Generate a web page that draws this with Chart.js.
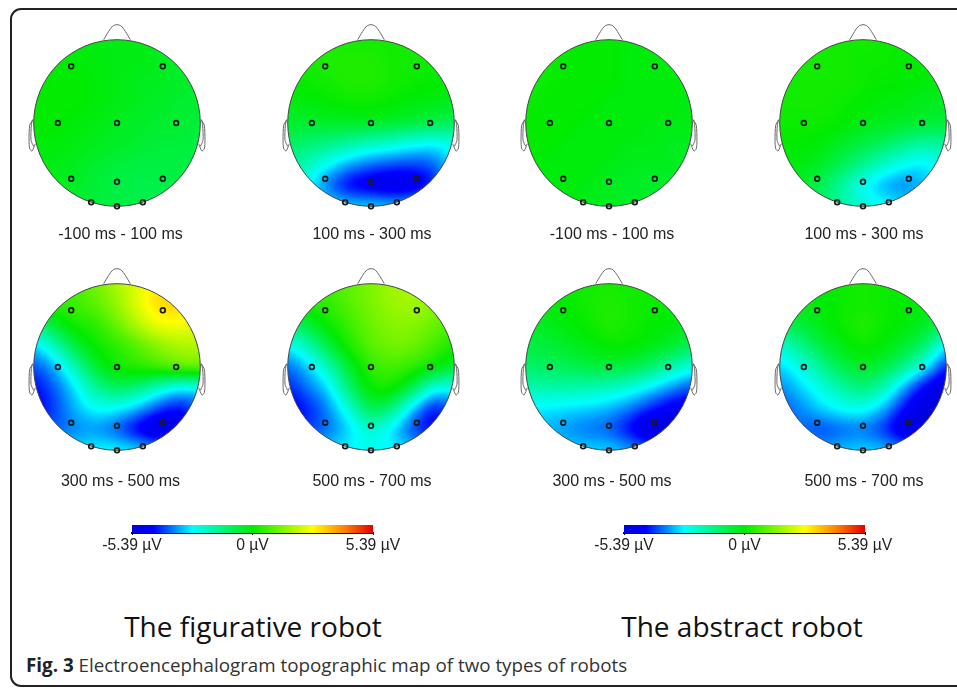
<!DOCTYPE html>
<html>
<head>
<meta charset="utf-8">
<title>Fig. 3</title>
<script src="https://cdn.jsdelivr.net/npm/chart.js@4"></script>
<style>
    html, body { margin: 0; padding: 0; background: #fff; overflow: hidden; }
    body { position: relative; width: 957px; height: 689px; }
    canvas { position: absolute; }
    .frame { position: absolute; left: 10px; top: 8px; width: 1000px; height: 679px; border: 2px solid #222; border-radius: 11px; box-sizing: border-box; }
    .label { position: absolute; width: 200px; text-align: center; font: 16px "Liberation Sans", Arial, sans-serif; color: #222; white-space: nowrap; }
    .group { position: absolute; width: 320px; text-align: center; font: 28px "Open Sans", sans-serif; color: #111; white-space: nowrap; }
    .caption { position: absolute; left: 26px; top: 652px; font: 18.8px "Open Sans", sans-serif; color: #333; white-space: nowrap; }
    .caption b { color: #222; }
</style>
</head>
<body>
<div class="frame"></div>
<script>
// Time windows under each map
const TIME_LABELS = ['-100 ms - 100 ms', '100 ms - 300 ms', '-100 ms - 100 ms', '100 ms - 300 ms',
                     '300 ms - 500 ms', '500 ms - 700 ms', '300 ms - 500 ms', '500 ms - 700 ms'];
const GROUP_LABELS = ['The figurative robot', 'The abstract robot'];
const SCALE_TICKS = [-5.39, 0, 5.39];

// Electrodes, in head units (radius = 1, y pointing down)
const ELECTRODES = [
    {x: -0.55, y: -0.68}, {x: 0.55, y: -0.68},
    {x: -0.71, y: 0}, {x: 0, y: 0}, {x: 0.71, y: 0},
    {x: -0.55, y: 0.67}, {x: 0, y: 0.705}, {x: 0.55, y: 0.67},
    {x: -0.31, y: 0.95}, {x: 0, y: 1}, {x: 0.31, y: 0.95}
];
const NOSE = [{x: -0.16, y: -1}, {x: -0.1, y: -1.1}, {x: -0.05, y: -1.165}, {x: 0, y: -1.18},
              {x: 0.05, y: -1.165}, {x: 0.1, y: -1.1}, {x: 0.16, y: -1}];
const EAR_OUTER = [{x: 1.012, y: -0.04}, {x: 1.048, y: 0.028}, {x: 1.056, y: 0.208},
                   {x: 1.048, y: 0.308}, {x: 1.02, y: 0.336}, {x: 0.98, y: 0.248}];
const EAR_INNER = [{x: 1.012, y: -0.04}, {x: 1.028, y: 0.02}, {x: 1.032, y: 0.208}, {x: 1, y: 0.28}];

// Voltage (µV), rows top to bottom, columns left to right, every 0.25 head units
const FIG_M100 = [
    [-0.1, -0.1, -0.1, -0.2, -0.2, -0.2, -0.3, -0.4, -0.4],
    [-0.1, 0, -0.1, -0.1, -0.2, -0.2, -0.3, -0.4, -0.4],
    [-0.1, 0, 0, -0.1, -0.2, -0.3, -0.3, -0.4, -0.5],
    [0, 0, 0, -0.1, -0.2, -0.3, -0.4, -0.5, -0.5],
    [0, 0, -0.1, -0.2, -0.3, -0.4, -0.5, -0.5, -0.6],
    [-0.1, -0.1, -0.2, -0.3, -0.4, -0.5, -0.6, -0.6, -0.7],
    [-0.2, -0.2, -0.3, -0.5, -0.6, -0.7, -0.7, -0.7, -0.7],
    [-0.2, -0.3, -0.4, -0.6, -0.7, -0.8, -0.8, -0.7, -0.7],
    [-0.3, -0.3, -0.5, -0.6, -0.7, -0.8, -0.8, -0.7, -0.7]
];
const FIG_100 = [
    [0.2, 0.2, 0.2, 0.2, 0.2, 0.2, 0.2, 0.2, 0.2],
    [0.1, 0.2, 0.3, 0.3, 0.3, 0.2, 0.2, 0.1, 0.1],
    [0, 0.1, 0.2, 0.3, 0.3, 0.2, 0.1, 0, 0],
    [-0.2, -0.1, 0, 0.1, 0.1, 0, -0.1, -0.2, -0.3],
    [-0.5, -0.5, -0.4, -0.4, -0.4, -0.5, -0.6, -0.8, -0.9],
    [-1, -1.2, -1.4, -1.7, -2, -2.2, -2.5, -2.7, -2.4],
    [-1.5, -2, -2.7, -3.3, -3.7, -3.9, -4, -3.8, -2.8],
    [-2, -2.7, -3.7, -4.5, -4.8, -5, -4.9, -4.2, -3],
    [-2, -2.4, -2.8, -3, -3, -3.1, -3, -2.6, -2.2]
];
const FIG_300 = [
    [0.5, 0.6, 0.8, 1.2, 1.8, 2.4, 2.9, 2.9, 2.5],
    [0.2, 0.4, 0.6, 1, 1.6, 2.4, 3.1, 3.1, 2.7],
    [-1.5, -0.5, 0.2, 0.4, 1.1, 1.9, 2.5, 2.6, 2.4],
    [-3, -2, -0.6, 0.1, 0.4, 0.9, 1.4, 1.8, 1.8],
    [-3.9, -3.2, -1.9, -0.5, 0.2, 0.4, 0.7, 1, 1.1],
    [-4.4, -3.8, -2.8, -1.6, -1, -1.3, -2.1, -2.7, -2.6],
    [-4.6, -4, -3.2, -2.6, -2.7, -3.2, -4, -4.4, -3.8],
    [-4, -3.8, -3.5, -3.4, -3.8, -4.6, -5.2, -4.8, -3.8],
    [-3.4, -3.2, -2.9, -2.7, -2.7, -2.9, -3.2, -3.2, -2.9]
];
const FIG_500 = [
    [0.4, 0.5, 0.7, 1, 1.3, 1.7, 1.7, 1.4, 1.2],
    [0, 0.3, 0.5, 0.9, 1.3, 1.6, 1.7, 1.4, 1],
    [-1.2, -0.6, 0.1, 0.6, 1.1, 1.4, 1.4, 1.1, 0.7],
    [-2.7, -1.9, -0.6, 0.3, 0.9, 1.2, 1.1, 0.7, 0.2],
    [-3.7, -3, -1.9, -0.4, 0.5, 0.7, 0.5, 0, -0.5],
    [-4.2, -3.6, -2.8, -1.1, 0.1, 0.2, -0.8, -2.4, -2.5],
    [-4.6, -4.2, -3.4, -2.2, -0.8, -1.3, -3, -4.3, -3.8],
    [-4.2, -4, -3.6, -2.9, -2.2, -2.8, -3.9, -4.5, -3.8],
    [-3.4, -3.3, -3, -2.7, -2.5, -2.7, -3, -3.2, -2.9]
];
const ABS_M100 = [
    [0.1, 0.1, 0, 0, 0, -0.1, -0.1, -0.1, -0.1],
    [0.1, 0.1, 0, 0, 0, -0.1, -0.1, -0.1, -0.1],
    [0.1, 0.1, 0, 0, 0, -0.1, -0.1, -0.1, -0.1],
    [0.1, 0, 0, 0, -0.1, -0.1, -0.1, -0.1, -0.2],
    [0, 0, 0, -0.1, -0.1, -0.1, -0.2, -0.2, -0.2],
    [0, 0, -0.1, -0.1, -0.1, -0.2, -0.2, -0.3, -0.3],
    [0, -0.1, -0.1, -0.1, -0.2, -0.3, -0.3, -0.3, -0.4],
    [-0.1, -0.1, -0.1, -0.2, -0.3, -0.4, -0.4, -0.4, -0.4],
    [-0.1, -0.1, -0.2, -0.3, -0.3, -0.4, -0.4, -0.4, -0.4]
];
const ABS_100 = [
    [0.2, 0.2, 0.2, 0.2, 0.2, 0.1, 0.1, 0, 0],
    [0.2, 0.2, 0.2, 0.2, 0.1, 0.1, 0, 0, 0],
    [0.2, 0.2, 0.2, 0.2, 0.1, 0, 0, -0.1, -0.1],
    [0.2, 0.2, 0.2, 0.1, 0, -0.1, -0.2, -0.3, -0.3],
    [0.1, 0.1, 0.1, 0, -0.2, -0.3, -0.4, -0.5, -0.6],
    [0, 0, -0.1, -0.4, -0.7, -1, -1.4, -1.7, -1.6],
    [-0.1, -0.2, -0.4, -0.9, -1.5, -2.1, -2.6, -2.8, -2.4],
    [-0.3, -0.4, -0.9, -1.7, -2.6, -3.2, -3.5, -3.1, -2.2],
    [-0.4, -0.6, -1, -1.7, -2.2, -2.6, -2.8, -2.5, -1.8]
];
const ABS_300 = [
    [-0.1, 0, 0.1, 0.2, 0.2, 0.2, 0.1, 0, -0.1],
    [-0.2, -0.1, 0, 0.2, 0.3, 0.2, 0.1, 0, -0.1],
    [-0.4, -0.3, -0.1, 0.1, 0.3, 0.2, 0, -0.1, -0.3],
    [-0.7, -0.6, -0.4, -0.2, 0, 0, -0.2, -0.5, -0.9],
    [-1.1, -1, -0.9, -0.7, -0.6, -0.8, -1.1, -1.8, -2.4],
    [-1.9, -1.8, -1.8, -1.9, -2, -2.3, -2.8, -3.4, -3.9],
    [-2.8, -2.8, -2.9, -3, -3.2, -3.6, -4.2, -4.7, -4.8],
    [-3, -3.2, -3.4, -3.6, -3.8, -4.4, -5.2, -5, -4.5],
    [-3, -3, -3, -3, -3, -3.3, -3.7, -3.7, -3.5]
];
const ABS_500 = [
    [-0.2, -0.1, 0, 0.1, 0.2, 0.1, 0, -0.1, -0.2],
    [-0.3, -0.2, -0.1, 0.1, 0.2, 0.1, 0, -0.1, -0.3],
    [-0.8, -0.6, -0.2, 0.1, 0.3, 0.1, -0.1, -0.4, -0.9],
    [-2.2, -1.5, -0.7, -0.2, 0.1, -0.1, -0.5, -1.2, -2.8],
    [-3, -2.4, -1.6, -0.8, -0.4, -0.7, -1.5, -2.7, -4.2],
    [-3.5, -3, -2.4, -1.7, -1.3, -1.9, -3.3, -4.6, -5.3],
    [-3.8, -3.5, -3, -2.6, -2.5, -3.2, -4.4, -5.2, -5.4],
    [-3.6, -3.7, -3.9, -3.7, -3.6, -4.1, -5, -5.1, -5],
    [-3, -3.2, -3.3, -3.1, -3, -3.1, -3.5, -3.7, -3.7]
];
const FIELDS = [FIG_M100, FIG_100, ABS_M100, ABS_100, FIG_300, FIG_500, ABS_300, ABS_500];

// Layout of the page
const HEAD_X = [117, 371, 609, 863];
const HEAD_Y = [123, 367];
const LABEL_X = [120.5, 372, 612, 864];
const LABEL_Y = [225, 472];
const HEAD_RADIUS = 83.3;
const HEAD_CANVAS = 240;
const BAR_LEFT = [132, 624];
const BAR_WIDTH = 241;
const GROUP_X = [253, 742];

// Colour scale stops: position 0-1, r, g, b
const COLOR_STOPS = [
    [0, 0, 0, 215], [0.09, 0, 0, 255], [0.25, 0, 255, 255], [0.5, 0, 235, 0],
    [0.75, 255, 255, 0], [0.88, 255, 130, 0], [1, 225, 0, 0]
];
const V_MAX = 5.39;

function colorAt(t) {
    for (let i = 1; i < COLOR_STOPS.length; i++) {
        const a = COLOR_STOPS[i - 1], b = COLOR_STOPS[i];
        if (t <= b[0]) {
            const k = (t - a[0]) / (b[0] - a[0]);
            return [a[1] + (b[1] - a[1]) * k, a[2] + (b[2] - a[2]) * k, a[3] + (b[3] - a[3]) * k];
        }
    }
    return COLOR_STOPS[COLOR_STOPS.length - 1].slice(1);
}

// Paints the voltage grid inside the head circle, placed through the chart scales
const fieldPlugin = {
    id: 'topoField',
    beforeDatasetsDraw(chart, args, opts) {
        const rows = opts.values;
        if (!rows) return;
        const n = rows.length;
        const half = 1 + 1 / (n - 1);
        const sx = chart.scales.x, sy = chart.scales.y;
        const x0 = sx.getPixelForValue(-half), x1 = sx.getPixelForValue(half);
        const y0 = sy.getPixelForValue(-half), y1 = sy.getPixelForValue(half);
        const w = Math.round(x1 - x0), h = Math.round(y1 - y0);

        // grid as grey levels, upscaled smoothly by the canvas, then coloured
        const small = document.createElement('canvas');
        small.width = n; small.height = n;
        const sctx = small.getContext('2d');
        const simg = sctx.createImageData(n, n);
        rows.forEach((row, r) => row.forEach((v, c) => {
            const g = Math.round((v + V_MAX) / (2 * V_MAX) * 255);
            const p = (r * n + c) * 4;
            simg.data[p] = simg.data[p + 1] = simg.data[p + 2] = g;
            simg.data[p + 3] = 255;
        }));
        sctx.putImageData(simg, 0, 0);

        const big = document.createElement('canvas');
        big.width = w; big.height = h;
        const bctx = big.getContext('2d', {willReadFrequently: true});
        bctx.imageSmoothingEnabled = true;
        bctx.imageSmoothingQuality = 'high';
        bctx.filter = 'blur(4px)';
        bctx.drawImage(small, 0, 0, w, h);
        bctx.filter = 'none';
        const img = bctx.getImageData(0, 0, w, h);
        for (let p = 0; p < img.data.length; p += 4) {
            const col = colorAt(img.data[p] / 255);
            img.data[p] = col[0]; img.data[p + 1] = col[1]; img.data[p + 2] = col[2];
            img.data[p + 3] = 255;
        }
        bctx.putImageData(img, 0, 0);

        const ctx = chart.ctx;
        const cx = sx.getPixelForValue(0), cy = sy.getPixelForValue(0);
        const radius = sx.getPixelForValue(1) - cx;
        ctx.save();
        ctx.beginPath();
        ctx.arc(cx, cy, radius, 0, Math.PI * 2);
        ctx.save();
        ctx.clip();
        ctx.drawImage(big, x0, y0);
        ctx.restore();
        ctx.lineWidth = 1;
        ctx.strokeStyle = '#444';
        ctx.stroke();
        ctx.restore();
    }
};

// The tick labels hang below the short axis box, so its clip area has to reach the canvas edge
const labelRoomPlugin = {
    id: 'labelRoom',
    afterLayout(chart) {
        chart.scales.x.bottom = chart.height;
    }
};

function outlineDataset(points) {
    return {
        data: points,
        showLine: true,
        borderColor: '#666',
        borderWidth: 1,
        tension: 0.25,
        pointRadius: 0
    };
}

function mirror(points) {
    return points.map(p => ({x: -p.x, y: p.y}));
}

function createHead(index) {
    const col = index % 4, row = Math.floor(index / 4);
    const canvas = document.createElement('canvas');
    canvas.style.left = (HEAD_X[col] - HEAD_CANVAS / 2) + 'px';
    canvas.style.top = (HEAD_Y[row] - HEAD_CANVAS / 2) + 'px';
    canvas.style.width = HEAD_CANVAS + 'px';
    canvas.style.height = HEAD_CANVAS + 'px';
    canvas.width = HEAD_CANVAS;
    canvas.height = HEAD_CANVAS;
    document.body.appendChild(canvas);

    const range = HEAD_CANVAS / 2 / HEAD_RADIUS;
    new Chart(canvas.getContext('2d'), {
        type: 'scatter',
        data: {
            datasets: [
                outlineDataset(NOSE),
                outlineDataset(EAR_OUTER),
                outlineDataset(EAR_INNER),
                outlineDataset(mirror(EAR_OUTER)),
                outlineDataset(mirror(EAR_INNER)),
                {
                    data: ELECTRODES,
                    pointRadius: 2.4,
                    pointBackgroundColor: 'rgba(0, 0, 0, 0)',
                    pointBorderColor: '#1a1a1a',
                    pointBorderWidth: 1.7
                }
            ]
        },
        options: {
            responsive: false,
            animation: false,
            layout: {padding: 0, autoPadding: false},
            scales: {
                x: {display: false, min: -range, max: range},
                y: {display: false, min: -range, max: range, reverse: true}
            },
            plugins: {
                legend: {display: false},
                tooltip: {enabled: false},
                topoField: {values: FIELDS[index]}
            }
        },
        plugins: [fieldPlugin]
    });

    const label = document.createElement('div');
    label.className = 'label';
    label.textContent = TIME_LABELS[index];
    label.style.left = (LABEL_X[col] - 100) + 'px';
    label.style.top = LABEL_Y[row] + 'px';
    document.body.appendChild(label);
}

// Colour bar: one floating bar on a real value axis
function createScaleBar(left) {
    const margin = 60;
    const canvas = document.createElement('canvas');
    const w = BAR_WIDTH + margin * 2, h = 36;
    canvas.style.left = (left - margin) + 'px';
    canvas.style.top = '522px';
    canvas.style.width = w + 'px';
    canvas.style.height = h + 'px';
    canvas.width = w;
    canvas.height = h;
    document.body.appendChild(canvas);

    const ctx = canvas.getContext('2d');
    const gradient = ctx.createLinearGradient(margin, 0, margin + BAR_WIDTH, 0);
    COLOR_STOPS.forEach(s => gradient.addColorStop(s[0], `rgb(${s[1]}, ${s[2]}, ${s[3]})`));

    new Chart(ctx, {
        type: 'bar',
        data: {
            labels: [''],
            datasets: [{data: [[-V_MAX, V_MAX]], backgroundColor: gradient, barPercentage: 1, categoryPercentage: 1}]
        },
        options: {
            indexAxis: 'y',
            responsive: false,
            animation: false,
            layout: {padding: {left: margin, right: margin, top: 3, bottom: 15}, autoPadding: false},
            scales: {
                x: {
                    min: -V_MAX,
                    max: V_MAX,
                    afterBuildTicks(axis) { axis.ticks = SCALE_TICKS.map(v => ({value: v})); },
                    // keep the bar thin, the labels hang below the axis box
                    afterFit(axis) { axis.height = 10; },
                    grid: {display: true, drawOnChartArea: false, tickLength: 2, tickColor: '#111'},
                    border: {color: '#111', width: 2},
                    ticks: {
                        padding: 1,
                        maxRotation: 0,
                        color: '#222',
                        font: {family: '"Liberation Sans", Arial, sans-serif', size: 15.7},
                        callback: v => v + ' µV'
                    }
                },
                y: {display: false}
            },
            plugins: {legend: {display: false}, tooltip: {enabled: false}}
        },
        plugins: [labelRoomPlugin]
    });
}

for (let i = 0; i < FIELDS.length; i++) createHead(i);
BAR_LEFT.forEach(createScaleBar);

GROUP_LABELS.forEach((text, i) => {
    const el = document.createElement('div');
    el.className = 'group';
    el.textContent = text;
    el.style.left = (GROUP_X[i] - 160) + 'px';
    el.style.top = '607px';
    document.body.appendChild(el);
});

const caption = document.createElement('div');
caption.className = 'caption';
caption.innerHTML = '<b>Fig. 3</b> Electroencephalogram topographic map of two types of robots';
document.body.appendChild(caption);
</script>
</body>
</html>
